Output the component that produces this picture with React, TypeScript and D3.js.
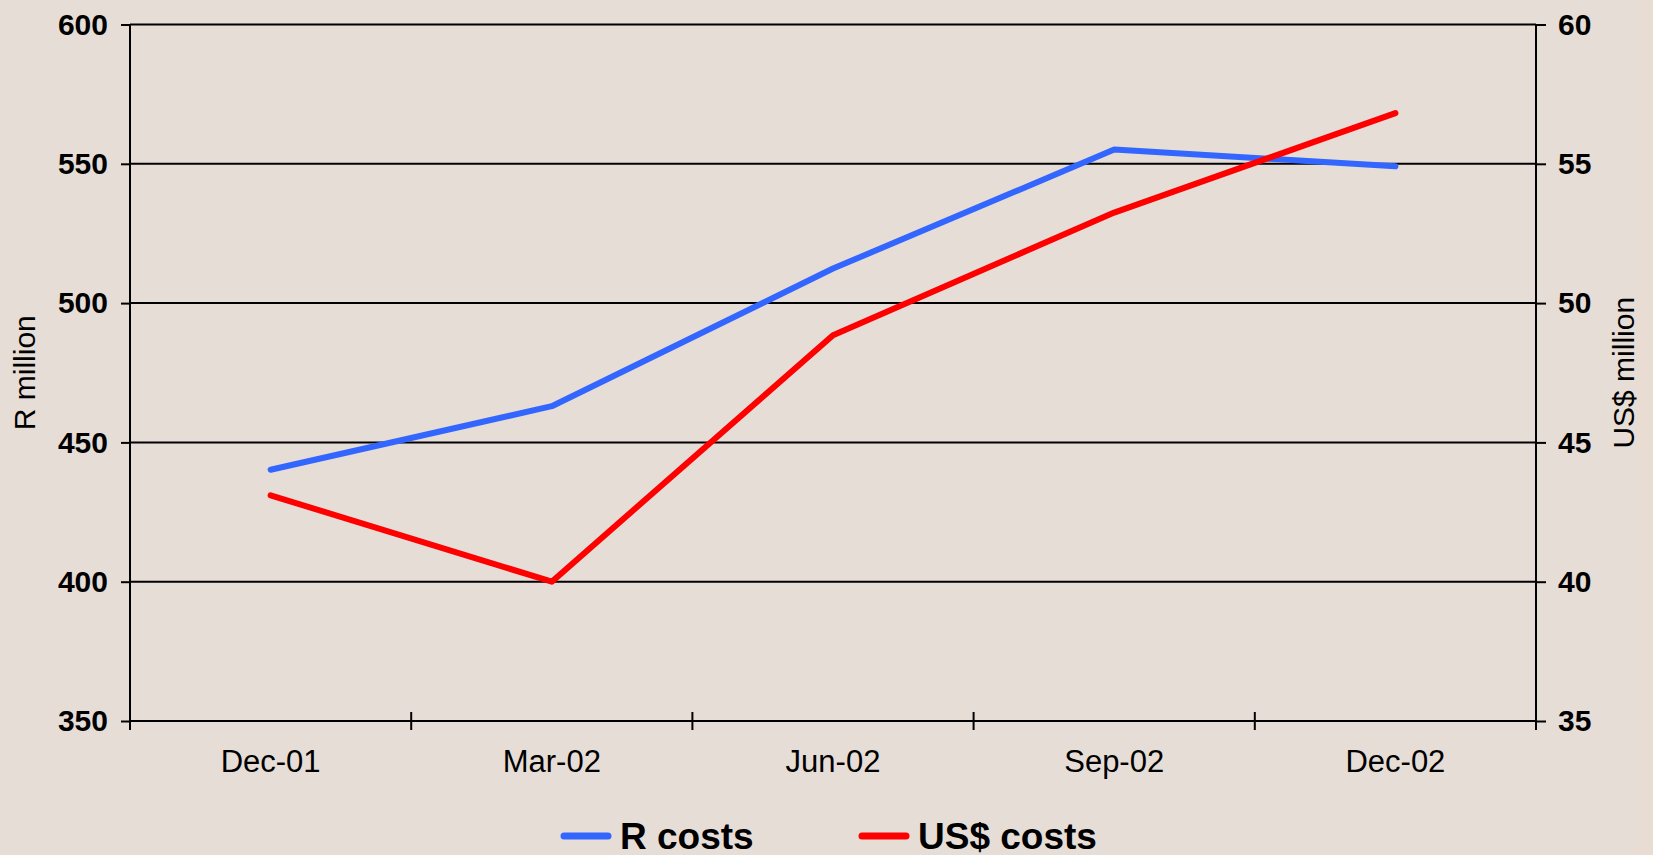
import React, { useEffect, useRef } from "react";
import * as d3 from "d3";

const width = 1653;
const height = 855;
const space = {
  marginLeft: 130,
  marginRight: 117,
  marginTop: 24.5,
  marginBottom: 134,
};

const quarters = ["Dec-01", "Mar-02", "Jun-02", "Sep-02", "Dec-02"];
const randCosts = [440.2, 463, 512.4, 555.1, 549.1];
const usdCosts = [43.1, 40.0, 48.85, 53.25, 56.82];
const leftTicks = [350, 400, 450, 500, 550, 600];
const rightTicks = [35, 40, 45, 50, 55, 60];

const font = "'Liberation Sans', Arial, sans-serif";

const App = () => {
  const ref = useRef<SVGSVGElement | null>(null);

  const chart = () => {
    const svg = d3
      .select(ref.current)
      .attr("width", width)
      .attr("height", height)
      .attr("viewBox", [0, 0, width, height])
      .style("display", "block");

    svg.selectAll("*").remove();

    svg.append("rect").attr("width", width).attr("height", height).attr("fill", "#e6ddd7");
    svg.append("rect").attr("x", 1636).attr("width", width - 1636).attr("height", height).attr("fill", "#e8dcd3");

    const left = space.marginLeft;
    const right = width - space.marginRight;
    const bottom = height - space.marginBottom;

    const x = d3.scaleBand().domain(quarters).range([left, right]).padding(0);
    const yL = d3.scaleLinear().domain([350, 600]).range([bottom, space.marginTop]);
    const yR = d3.scaleLinear().domain([35, 60]).range([bottom, space.marginTop]);

    // grid lines
    svg
      .append("g")
      .selectAll("line")
      .data(leftTicks.slice(1))
      .join("line")
      .attr("x1", left)
      .attr("x2", right)
      .attr("y1", (d) => yL(d))
      .attr("y2", (d) => yL(d))
      .attr("stroke", "#000")
      .attr("stroke-width", 2);

    // left axis
    const gL = svg
      .append("g")
      .attr("transform", `translate(${left},0)`)
      .call(d3.axisLeft(yL).tickValues(leftTicks).tickSize(9).tickPadding(13));
    gL.select(".domain").attr("d", `M0,${space.marginTop}V${bottom + 9}`);
    gL.selectAll("line").attr("stroke-width", 2);
    gL.selectAll("path").attr("stroke-width", 2);
    gL.selectAll("text").attr("font-family", font).attr("font-size", 30).attr("font-weight", "bold").attr("fill", "#000");

    // right axis
    const gR = svg
      .append("g")
      .attr("transform", `translate(${right},0)`)
      .call(d3.axisRight(yR).tickValues(rightTicks).tickSize(10).tickPadding(12));
    gR.select(".domain").attr("d", `M0,${space.marginTop}V${bottom + 9}`);
    gR.selectAll("line").attr("stroke-width", 2);
    gR.selectAll("path").attr("stroke-width", 2);
    gR.selectAll("text").attr("font-family", font).attr("font-size", 30).attr("font-weight", "bold").attr("fill", "#000");

    // bottom axis
    const gX = svg
      .append("g")
      .attr("transform", `translate(0,${bottom})`)
      .call(d3.axisBottom(x).tickSize(0).tickPadding(29));
    gX.select(".domain").attr("d", `M${left},0H${right}`).attr("stroke-width", 2);
    gX.selectAll("text").attr("font-family", font).attr("font-size", 31).attr("fill", "#000");

    const bounds = quarters.map((q) => x(q) as number).concat([right]);
    svg
      .append("g")
      .selectAll("line")
      .data(bounds)
      .join("line")
      .attr("x1", (d) => d)
      .attr("x2", (d) => d)
      .attr("y1", bottom - 9)
      .attr("y2", bottom + 9)
      .attr("stroke", "#000")
      .attr("stroke-width", 2);

    // axis titles
    svg
      .append("text")
      .attr("transform", `translate(35,${(bottom + space.marginTop) / 2}) rotate(-90)`)
      .attr("text-anchor", "middle")
      .attr("font-family", font)
      .attr("font-size", 30)
      .text("R million");
    svg
      .append("text")
      .attr("transform", `translate(1634,${(bottom + space.marginTop) / 2}) rotate(-90)`)
      .attr("text-anchor", "middle")
      .attr("font-family", font)
      .attr("font-size", 30)
      .text("US$ million");

    const cx = (q: string) => (x(q) as number) + x.bandwidth() / 2;

    const lineL = d3
      .line<number>()
      .x((_, i) => cx(quarters[i]))
      .y((d) => yL(d));
    const lineR = d3
      .line<number>()
      .x((_, i) => cx(quarters[i]))
      .y((d) => yR(d));

    svg
      .append("path")
      .datum(randCosts)
      .attr("d", lineL)
      .attr("fill", "none")
      .attr("stroke", "#3366ff")
      .attr("stroke-width", 6)
      .attr("stroke-linecap", "round")
      .attr("stroke-linejoin", "round");

    svg
      .append("path")
      .datum(usdCosts)
      .attr("d", lineR)
      .attr("fill", "none")
      .attr("stroke", "#ff0000")
      .attr("stroke-width", 6)
      .attr("stroke-linecap", "round")
      .attr("stroke-linejoin", "round");

    // legend
    const legend = [
      { name: "R costs", color: "#3366ff", x: 564 },
      { name: "US$ costs", color: "#ff0000", x: 862 },
    ];
    const lg = svg.append("g").selectAll("g").data(legend).join("g");
    lg.append("line")
      .attr("x1", (d) => d.x)
      .attr("x2", (d) => d.x + 44)
      .attr("y1", 836)
      .attr("y2", 836)
      .attr("stroke", (d) => d.color)
      .attr("stroke-width", 7)
      .attr("stroke-linecap", "round");
    lg.append("text")
      .attr("x", (d) => d.x + 56)
      .attr("y", 849)
      .attr("font-family", font)
      .attr("font-size", 37)
      .attr("font-weight", "bold")
      .text((d) => d.name);
  };

  useEffect(() => {
    chart();
  }, []);

  return (
    <div style={{ position: "absolute", left: 0, top: 0 }}>
      <svg ref={ref} />
    </div>
  );
};

export default App;
